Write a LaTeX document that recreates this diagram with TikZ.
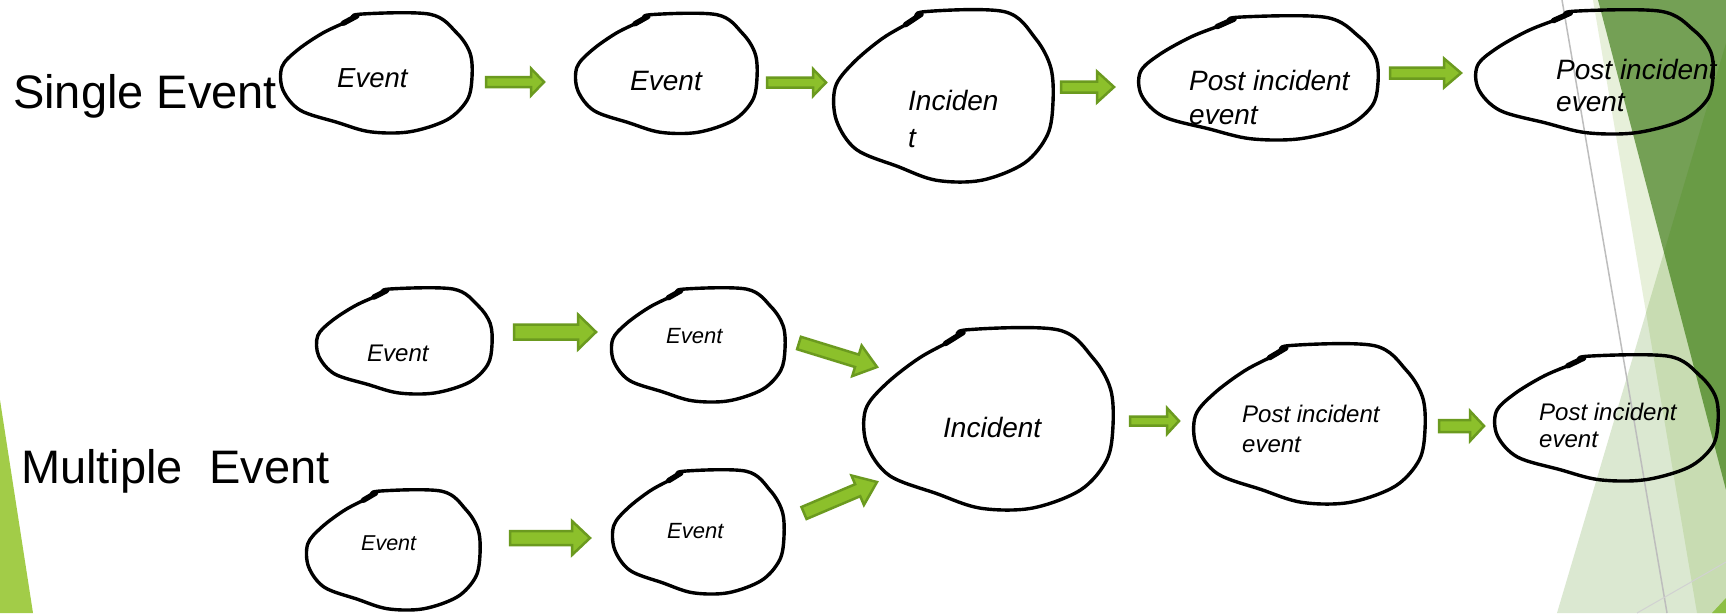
\documentclass[tikz,border=0pt]{standalone}
\usepackage{fontspec}
\setmainfont{Liberation Sans}
\usetikzlibrary{calc}

\definecolor{arrowfill}{HTML}{8CC02B}
\definecolor{arrowedge}{HTML}{6B9A1F}
\definecolor{limebar}{HTML}{A2CC48}
\definecolor{facetmid}{HTML}{74A055}
\definecolor{facettint}{RGB}{60,133,0}
\definecolor{facetband}{HTML}{E7F0DA}
\definecolor{facetbright}{HTML}{8DBF45}
\definecolor{facetline}{HTML}{BDBDBD}

% two stacked lines, baseline on the first one
\newcommand\twoline[2]{\begin{tabular}[t]{@{}l@{}}#1\\#2\end{tabular}}

% hand-drawn bubble, centre (#1,#2), half sizes #3 x #4
\newcommand\drawblob[4]{%
  \begin{scope}[shift={(#1,#2)},xscale=#3,yscale=#4]
    \draw[blobline] plot[smooth cycle, tension=0.55] coordinates {
      (-0.17,-0.98) (0.56,-0.98) (0.84,-0.67) (0.98,-0.33) (1.0,0.07)
      (0.95,0.45) (0.74,0.78) (0.35,0.98) (-0.06,0.98) (-0.41,0.82)
      (-0.79,0.62) (-0.97,0.28) (-0.98,-0.1) (-0.82,-0.38) (-0.55,-0.67)
      (-0.27,-0.88)};
    \draw[blobtick] (-0.34,-0.83) -- (-0.2,-0.95);
  \end{scope}}

% block arrow from #1 to #2: shaft half width #3, head half width #4, head length #5
\newcommand\fatarrow[5]{%
  \coordinate (fa-hb) at ($(#2)!#5!(#1)$);
  \draw[arrowbody] ($(#1)!#3!90:(#2)$) -- ($(fa-hb)!#3!90:(#2)$)
    -- ($(fa-hb)!#4!90:(#2)$) -- (#2) -- ($(fa-hb)!#4!-90:(#2)$)
    -- ($(fa-hb)!#3!-90:(#2)$) -- ($(#1)!#3!-90:(#2)$) -- cycle;}

\tikzset{
  blobline/.style={line width=3.4pt, line join=round},
  blobtick/.style={line width=5.5pt, line cap=round},
  arrowbody/.style={fill=arrowfill, draw=arrowedge, line width=2.5pt, line join=miter},
  evtext/.style 2 args={inner sep=0pt, anchor=base west,
    font=\fontsize{#1}{#2}\selectfont\itshape},
  sidelabel/.style={inner sep=0pt, anchor=base west,
    font=\fontsize{47}{56}\selectfont},
}

\begin{document}
\begin{tikzpicture}[x=1pt,y=-1pt]
\useasboundingbox (0,0) rectangle (1726,613);
\fill[white] (0,0) rectangle (1726,613);

% slide decoration
\fill[facetband] (1593,0) -- (1726,0) -- (1726,613) -- (1697,613) -- cycle;
\fill[facetmid] (1598,0) -- (1726,0) -- (1726,490) -- cycle;
\fill[facettint, fill opacity=0.18] (1557,613) -- (1726,43) -- (1726,613) -- cycle;
\fill[facetbright] (1712,613) -- (1726,598) -- (1726,613) -- cycle;
\draw[facetline, line width=1.5pt] (1562,0) -- (1667,613);
\draw[facetline!70, line width=1pt] (1637,613) -- (1726,562);
\fill[limebar] (0,400) -- (33,613) -- (0,613) -- cycle;

% row labels
\node[sidelabel] (single) at (13,108) {Single Event};
\node[sidelabel] (multi) at (21,483) {Multiple~~Event};

% single event chain
\drawblob{376}{73}{96}{60}
\drawblob{666}{73.5}{91}{60}
\drawblob{943}{96}{110}{86}
\drawblob{1258}{78}{120}{62}
\drawblob{1594}{72}{119}{62}
\node[evtext={27.5}{33}] (b1) at (337,87) {Event};
\node[evtext={28}{34}] (b2) at (630,90) {Event};
\node[evtext={28}{37}] (b3) at (908,110) {\twoline{Inciden}{t}};
\node[evtext={28}{34}] (b4) at (1189,90) {\twoline{Post incident}{event}};
\node[evtext={28}{32}] (b5) at (1556,79) {\twoline{Post incident}{event}};

% multiple event chain
\drawblob{404}{341}{88}{53}
\drawblob{698}{345}{87}{57}
\drawblob{988}{419}{125}{91}
\drawblob{1309}{424}{116}{80}
\drawblob{1606}{418}{112}{63}
\drawblob{393}{550}{87}{60}
\drawblob{698}{532}{86}{62}
\node[evtext={24}{29}] (c1) at (367,361) {Event};
\node[evtext={22}{26}] (c2) at (666,343) {Event};
\node[evtext={28}{34}] (c3) at (943,437) {Incident};
\node[evtext={24}{30}] (c4) at (1242,422) {\twoline{Post incident}{event}};
\node[evtext={24}{27}] (c5) at (1539,420) {\twoline{Post incident}{event}};
\node[evtext={21.5}{26}] (c6) at (361,550) {Event};
\node[evtext={22}{26}] (c7) at (667,538) {Event};

% arrow ends
\coordinate (a1s) at (486,82);   \coordinate (a1e) at (544,82);
\coordinate (a2s) at (767,82.5); \coordinate (a2e) at (826,82.5);
\coordinate (a3s) at (1061,87);  \coordinate (a3e) at (1114,87);
\coordinate (a4s) at (1390,73);  \coordinate (a4e) at (1461,73);
\coordinate (a5s) at (514,332);  \coordinate (a5e) at (596,332);
\coordinate (a6s) at (799,343);  \coordinate (a6e) at (877,367);
\coordinate (a7s) at (804,513);  \coordinate (a7e) at (877,482);
\coordinate (a8s) at (1130,421); \coordinate (a8e) at (1179,421);
\coordinate (a9s) at (1439,426); \coordinate (a9e) at (1484,426);
\coordinate (a10s) at (510,538); \coordinate (a10e) at (590,538);

\fatarrow{a1s}{a1e}{5pt}{13.5pt}{13pt}
\fatarrow{a2s}{a2e}{5pt}{13.5pt}{13pt}
\fatarrow{a3s}{a3e}{5.5pt}{15.5pt}{17pt}
\fatarrow{a4s}{a4e}{5.5pt}{14.5pt}{17pt}
\fatarrow{a5s}{a5e}{7.5pt}{17.5pt}{18pt}
\fatarrow{a6s}{a6e}{6.5pt}{16pt}{21pt}
\fatarrow{a7s}{a7e}{6.5pt}{16pt}{21pt}
\fatarrow{a8s}{a8e}{4.5pt}{13pt}{12pt}
\fatarrow{a9s}{a9e}{6pt}{15pt}{14pt}
\fatarrow{a10s}{a10e}{7pt}{17pt}{18pt}
\end{tikzpicture}
\end{document}
